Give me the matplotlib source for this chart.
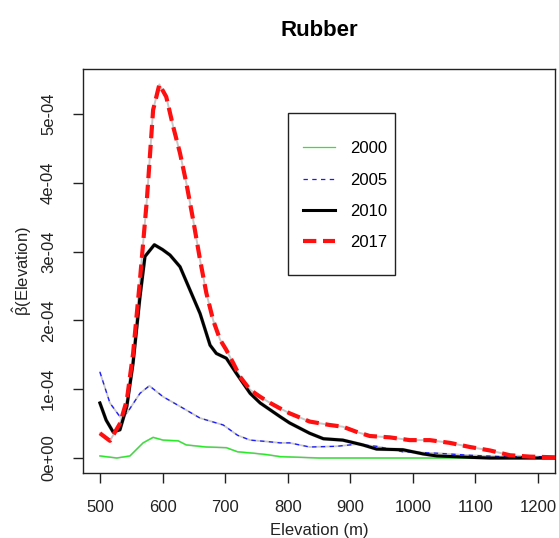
import matplotlib
matplotlib.use("Agg")
import matplotlib.pyplot as plt
from matplotlib.patches import Rectangle
from matplotlib.lines import Line2D

plt.rcParams['font.family'] = ['Liberation Sans', 'DejaVu Sans']
plt.rcParams['mathtext.fontset'] = 'custom'
plt.rcParams['mathtext.rm'] = 'Liberation Sans'
plt.rcParams['mathtext.it'] = 'Liberation Sans'

# ---- data (values in units of 1e-4) ----
x2000 = [500, 527, 548, 569, 585, 601, 625, 638, 670, 702, 720, 745, 766, 788, 850, 1000, 1227]
y2000 = [0.03, 0.0, 0.03, 0.22, 0.30, 0.26, 0.25, 0.19, 0.16, 0.15, 0.09, 0.07, 0.05, 0.02, 0.0, 0.0, 0.0]

x2005 = [500, 516, 532, 543, 564, 579, 601, 628, 660, 697, 720, 740, 766, 788, 803, 835, 878, 910, 942, 984, 1038, 1091, 1144, 1227]
y2005 = [1.25, 0.80, 0.60, 0.65, 0.94, 1.05, 0.89, 0.75, 0.58, 0.48, 0.33, 0.26, 0.24, 0.22, 0.22, 0.16, 0.17, 0.20, 0.17, 0.09, 0.07, 0.04, 0.02, 0.02]

x2010 = [500, 510, 521, 532, 543, 553, 564, 572, 587, 600, 612, 628, 644, 660, 676, 686, 702, 718, 740, 756, 772, 788, 803, 835, 857, 888, 920, 942, 984, 1016, 1038, 1091, 1123, 1227]
y2010 = [0.80, 0.55, 0.38, 0.41, 0.75, 1.38, 2.34, 2.93, 3.10, 3.03, 2.95, 2.78, 2.44, 2.10, 1.64, 1.52, 1.45, 1.23, 0.94, 0.80, 0.70, 0.60, 0.51, 0.36, 0.28, 0.26, 0.19, 0.13, 0.12, 0.06, 0.03, 0.01, 0.0, 0.0]

x2017 = [500, 516, 532, 543, 553, 564, 575, 585, 595, 606, 617, 628, 638, 649, 660, 670, 681, 692, 702, 713, 724, 740, 756, 772, 788, 803, 835, 867, 888, 910, 931, 963, 995, 1027, 1059, 1091, 1123, 1155, 1187, 1227]
y2017 = [0.36, 0.25, 0.50, 0.84, 1.52, 2.59, 3.75, 5.06, 5.43, 5.25, 4.82, 4.43, 4.0, 3.46, 2.88, 2.4, 2.0, 1.72, 1.57, 1.38, 1.18, 0.99, 0.89, 0.80, 0.72, 0.65, 0.53, 0.48, 0.455, 0.38, 0.32, 0.30, 0.26, 0.26, 0.22, 0.16, 0.11, 0.04, 0.02, 0.01]

years = ['2000', '2005', '2010', '2017']
xticks = [500, 600, 700, 800, 900, 1000, 1100, 1200]
yticks = [0, 1e-4, 2e-4, 3e-4, 4e-4, 5e-4]
ytick_labels = ['0e+00', '1e-04', '2e-04', '3e-04', '4e-04', '5e-04']

scale = 1e-4
series = [
    (x2000, y2000, dict(color='#22ee22', lw=0.9, ls='-', halo=1.3)),
    (x2005, y2005, dict(color='#1a1aff', lw=0.9, ls=(0, (3.5, 3.5)), halo=1.3)),
    (x2010, y2010, dict(color='black', lw=2.2, ls='-', halo=2.7)),
    (x2017, y2017, dict(color='#ff1010', lw=3.0, ls=(0, (3.2, 1.6)), halo=1.4)),
]

fig = plt.figure(figsize=(5.59, 5.38), dpi=100)
W, H = 559, 538
ax = fig.add_axes([83 / W, 1 - 473 / H, (555 - 83) / W, (473 - 69) / H])

for xs, ys, st in series:
    ax.plot(xs, [v * scale for v in ys], color='#c8c8c8', lw=st['halo'], solid_capstyle='round', zorder=2)
for xs, ys, st in series:
    ax.plot(xs, [v * scale for v in ys], color=st['color'], lw=st['lw'], ls=st['ls'], zorder=3)

ax.set_xlim(473, 1227)
ax.set_ylim(-0.218e-4, 5.655e-4)

ax.set_xticks(xticks)
ax.set_xticklabels([str(t) for t in xticks], fontsize=12, color='#222222')
ax.set_yticks(yticks)
ax.set_yticklabels(ytick_labels, fontsize=12, rotation=90, va='center', color='#222222')
ax.tick_params(axis='both', direction='out', length=7.5, width=1.0, color='#222222')
ax.tick_params(axis='x', pad=12)
ax.tick_params(axis='y', pad=12)
for sp in ax.spines.values():
    sp.set_linewidth(1.0)
    sp.set_color('#222222')

ax.set_xlabel('Elevation (m)', fontsize=12, labelpad=6, color='#222222')
ax.set_ylabel(r'$\hat{\beta}$(Elevation)', fontsize=12, labelpad=5, color='#222222')
ax.set_title('Rubber', fontsize=16, fontweight='bold', pad=24)

# legend
handles = [Line2D([], [], color=st['color'], lw=st['lw'], ls=st['ls']) for _, _, st in series]
leg = ax.legend(handles, years, loc='upper left', bbox_to_anchor=((295 - 83) / (555 - 83), 1 - (133 - 69) / (473 - 69)),
                frameon=False, fontsize=12, handlelength=1.9, handletextpad=0.9, labelspacing=0.98, borderpad=0)
ax.add_patch(Rectangle((287.5 / W, 1 - 275 / H), (395 - 287.5) / W, (275 - 112.7) / H,
                       transform=fig.transFigure, fill=False, lw=1.0, ec='#222222', zorder=5))

fig.savefig('out.png', dpi=100)
